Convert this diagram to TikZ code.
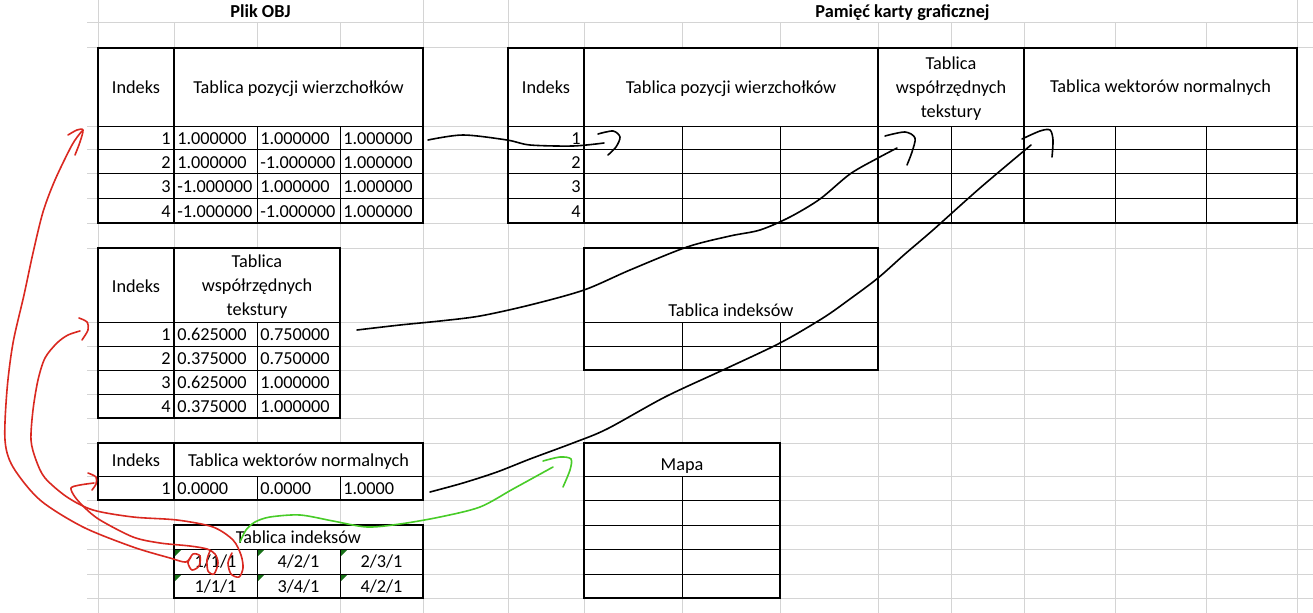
\documentclass[tikz,border=0pt]{standalone}
\usepackage{fontspec}
\setmainfont{Carlito}
\usepackage{tikz}

\definecolor{kolsiatki}{RGB}{212,212,212}
\definecolor{kolczerw}{RGB}{218,40,32}
\definecolor{kolziel}{RGB}{72,204,40}
\definecolor{kolznacz}{RGB}{24,112,24}

\begin{document}
\begin{tikzpicture}[x=0.75pt, y=-0.75pt,
	siatka/.style={draw=kolsiatki, line width=0.75pt},
	ramka/.style={draw=black, line width=1.5pt},
	kreska/.style={draw=black, line width=0.75pt},
	tekst/.style={font=\fontsize{13.7}{18}\selectfont, inner sep=0pt, anchor=base},
	tytul/.style={tekst, font=\fontsize{13.7}{18}\selectfont\bfseries},
	prawo/.style={tekst, anchor=base east},
	lewo/.style={tekst, anchor=base west},
	pisak/.style={line width=1.2pt, line cap=round, line join=round},
	znacznik/.style={fill=kolznacz}]

	\useasboundingbox (0,0) rectangle (1313,613);
	\fill[white] (0,0) rectangle (1313,613);

	% siatka arkusza
	\foreach \y in {23,48,127,150,174,198,223,248,322,346,370,394,418,443,476,500,525,549,574,598}
		\draw[siatka] (87,\y) -- (1313,\y);
	\foreach \x in {98,423,508,1297}
		\draw[siatka] (\x,0) -- (\x,613);
	\foreach \x in {174,257,340,584,682,780,878,951,1024,1115,1206}
		\draw[siatka] (\x,23) -- (\x,613);

	\node[tytul] (plik) at (260.5,18) {Plik OBJ};
	\node[tytul] (pamiec) at (902.5,18) {Pamięć karty graficznej};

	% Plik OBJ: wierzcholki
	\fill[white] (98,48) rectangle (423,223);
	\foreach \y in {127,150,174,198}
		\draw[kreska] (98,\y) -- (423,\y);
	\foreach \x in {257,340}
		\draw[kreska] (\x,127) -- (\x,223);
	\draw[ramka] (98,48) rectangle (174,223);
	\draw[ramka] (174,48) rectangle (423,223);
	\node[tekst] (vIndeks) at (136,94) {Indeks};
	\node[tekst] (vNaglowek) at (298.5,94) {Tablica pozycji wierzchołków};
	\foreach \n/\y/\a/\b/\c in {1/145/1.000000/1.000000/1.000000, 2/169/1.000000/-1.000000/1.000000, 3/193/-1.000000/1.000000/1.000000, 4/217/-1.000000/-1.000000/1.000000} {
		\node[prawo] (vi\n) at (171,\y) {\n};
		\node[lewo] (va\n) at (177,\y) {\a};
		\node[lewo] (vb\n) at (260,\y) {\b};
		\node[lewo] (vc\n) at (343,\y) {\c};
	}

	% Plik OBJ: tekstury
	\fill[white] (98,248) rectangle (340,418);
	\foreach \y in {322,346,370,394}
		\draw[kreska] (98,\y) -- (340,\y);
	\draw[kreska] (257,322) -- (257,418);
	\draw[ramka] (98,248) rectangle (174,418);
	\draw[ramka] (174,248) rectangle (340,418);
	\node[tekst] (tIndeks) at (136,292) {Indeks};
	\node[tekst] (tNag1) at (257,267) {Tablica};
	\node[tekst] (tNag2) at (257,291) {współrzędnych};
	\node[tekst] (tNag3) at (257,315) {tekstury};
	\foreach \n/\y/\a/\b in {1/340/0.625000/0.750000, 2/364/0.375000/0.750000, 3/388/0.625000/1.000000, 4/412/0.375000/1.000000} {
		\node[prawo] (ti\n) at (171,\y) {\n};
		\node[lewo] (ta\n) at (177,\y) {\a};
		\node[lewo] (tb\n) at (260,\y) {\b};
	}

	% Plik OBJ: normalne
	\fill[white] (98,443) rectangle (423,500);
	\draw[kreska] (98,476) -- (423,476);
	\draw[kreska] (257,476) -- (257,500);
	\draw[kreska] (340,476) -- (340,500);
	\draw[ramka] (98,443) rectangle (174,500);
	\draw[ramka] (174,443) rectangle (423,500);
	\node[tekst] (nIndeks) at (136,466) {Indeks};
	\node[tekst] (nNaglowek) at (298.5,466) {Tablica wektorów normalnych};
	\node[prawo] (ni1) at (171,494) {1};
	\node[lewo] (na1) at (177,494) {0.0000};
	\node[lewo] (nb1) at (260,494) {0.0000};
	\node[lewo] (nc1) at (343,494) {1.0000};

	% Plik OBJ: indeksy
	\fill[white] (174,525) rectangle (423,598);
	\draw[kreska] (174,549) -- (423,549);
	\draw[kreska] (174,574) -- (423,574);
	\draw[kreska] (257,549) -- (257,598);
	\draw[kreska] (340,549) -- (340,598);
	\draw[ramka] (174,525) rectangle (423,598);
	\foreach \x in {174,257,340}
		\foreach \y in {549,574}
			\fill[znacznik] (\x+1,\y+1) -- (\x+7,\y+1) -- (\x+1,\y+7) -- cycle;
	\node[tekst] (iNaglowek) at (298.5,543) {Tablica indeksów};
	\node[tekst] (ia1) at (215.5,567) {1/1/1};
	\node[tekst] (ib1) at (298.5,567) {4/2/1};
	\node[tekst] (ic1) at (381.5,567) {2/3/1};
	\node[tekst] (ia2) at (215.5,592) {1/1/1};
	\node[tekst] (ib2) at (298.5,592) {3/4/1};
	\node[tekst] (ic2) at (381.5,592) {4/2/1};

	% Pamiec karty: bufor wierzcholkow
	\fill[white] (508,48) rectangle (1297,223);
	\foreach \y in {127,150,174,198}
		\draw[kreska] (508,\y) -- (1297,\y);
	\foreach \x in {682,780,951,1115,1206}
		\draw[kreska] (\x,127) -- (\x,223);
	\draw[ramka] (508,48) rectangle (584,223);
	\draw[ramka] (584,48) rectangle (878,223);
	\draw[ramka] (878,48) rectangle (1024,223);
	\draw[ramka] (1024,48) rectangle (1297,223);
	\node[tekst] (gIndeks) at (546,94) {Indeks};
	\node[tekst] (gPozycje) at (731,94) {Tablica pozycji wierzchołków};
	\node[tekst] (gTekst1) at (951,70) {Tablica};
	\node[tekst] (gTekst2) at (951,94) {współrzędnych};
	\node[tekst] (gTekst3) at (951,118) {tekstury};
	\node[tekst] (gNormalne) at (1160.5,93) {Tablica wektorów normalnych};
	\foreach \n/\y in {1/145, 2/169, 3/193, 4/217}
		\node[prawo] (gi\n) at (581,\y) {\n};

	% Pamiec karty: bufor indeksow
	\fill[white] (584,248) rectangle (878,370);
	\draw[kreska] (584,322) -- (878,322);
	\draw[kreska] (584,346) -- (878,346);
	\draw[kreska] (682,322) -- (682,370);
	\draw[kreska] (780,322) -- (780,370);
	\draw[ramka] (584,248) rectangle (878,370);
	\node[tekst] (bNaglowek) at (731,316) {Tablica indeksów};

	% Pamiec karty: mapa
	\fill[white] (584,443) rectangle (780,598);
	\foreach \y in {476,500,525,549,574}
		\draw[kreska] (584,\y) -- (780,\y);
	\draw[kreska] (682,476) -- (682,598);
	\draw[ramka] (584,443) rectangle (780,598);
	\node[tekst] (mNaglowek) at (682,470) {Mapa};

	% strzalki rysowane odrecznie
	\coordinate (vOd) at (428,140);
	\coordinate (vDo) at (604,143);
	\draw[pisak] plot[smooth] coordinates {(vOd) (463,135) (507,140) (530,145) (573,146) (vDo)};
	\draw[pisak] plot[smooth] coordinates {(598,134) (613,131) (620,137) (616,147) (608,155)};

	\coordinate (tOd) at (357,330);
	\coordinate (tDo) at (897,148);
	\draw[pisak] plot[smooth] coordinates {(tOd) (400,325) (440,321) (480,316) (530,305) (584,290) (630,270) (687,247) (730,236) (760,230) (790,217) (820,199) (850,174) (878,158) (tDo)};
	\draw[pisak] plot[smooth] coordinates {(885,136) (905,132) (915,138) (912,152) (907,165)};

	\coordinate (nOd) at (430,492);
	\coordinate (nDo) at (1031,145);
	\draw[pisak] plot[smooth] coordinates {(nOd) (463,483) (497,472) (530,459) (573,443) (607,429) (665,397) (723,370) (780,343) (823,318) (850,299) (878,278) (905,254) (933,230) (980,188) (nDo)};
	\draw[pisak] plot[smooth] coordinates {(1022,139) (1040,131) (1050,130) (1053,140) (1052,157)};

	\coordinate (zOd) at (240,542);
	\coordinate (zDo) at (553,467);
	\draw[pisak, kolziel] plot[smooth] coordinates {(zOd) (246,530) (255,522) (270,517) (300,515) (333,521) (367,527) (400,524) (440,517) (480,507) (513,489) (zDo)};
	\draw[pisak, kolziel] plot[smooth] coordinates {(543,461) (560,457) (571,459) (570,470) (563,487)};

	\coordinate (r1Od) at (191,557);
	\coordinate (r1Do) at (82,131);
	\draw[pisak, kolczerw] plot[smooth] coordinates {(r1Do) (72,145) (55,180) (43,212) (33,253) (24,295) (13,343) (7,390) (5,440) (13,467) (40,500) (83,527) (133,547) (170,558) (186,562) (193,554) (200,556) (199,566) (192,570) (188,563) (r1Od)};
	\draw[pisak, kolczerw] plot[smooth] coordinates {(68,135) (77,130) (83,130) (80,142) (75,155)};

	\coordinate (r2Od) at (232,553);
	\coordinate (r2Do) at (80,331);
	\draw[pisak, kolczerw] plot[smooth] coordinates {(r2Do) (68,335) (57,343) (45,358) (38,380) (33,410) (31,440) (36,460) (45,478) (67,497) (93,510) (133,517) (177,520) (213,527) (233,540) (241,555) (243,568) (239,577) (231,574) (228,563) (r2Od)};
	\draw[pisak, kolczerw] plot[smooth] coordinates {(79,318) (87,322) (88,330) (82,340)};

	\coordinate (r3Od) at (210,551);
	\coordinate (r3Do) at (94,483);
	\draw[pisak, kolczerw] plot[smooth] coordinates {(r3Do) (80,485) (71,488) (75,497) (85,508) (100,520) (133,537) (160,543) (190,546) (207,549) (215,554) (218,563) (214,574) (208,571) (207,560) (r3Od)};
	\draw[pisak, kolczerw] plot[smooth] coordinates {(88,473) (96,477) (96,484) (92,490)};

\end{tikzpicture}
\end{document}
